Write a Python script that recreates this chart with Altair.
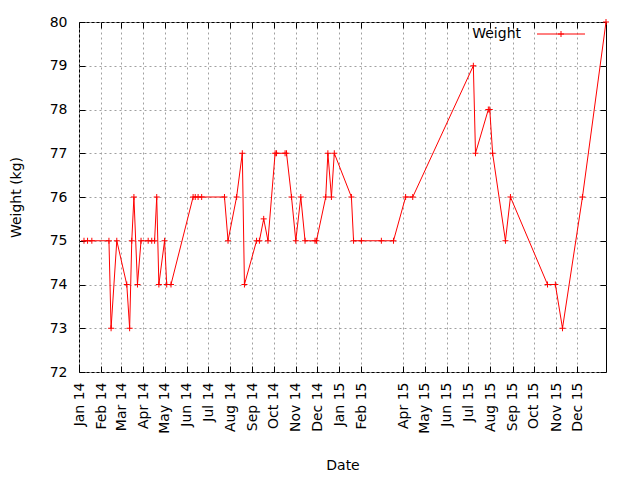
import altair as alt
import pandas as pd

# ---- data ----
dates = [
    "2014-01-08", "2014-01-13", "2014-01-19", "2014-02-12", "2014-02-15", "2014-02-23",
    "2014-03-09", "2014-03-13", "2014-03-16", "2014-03-19", "2014-03-24", "2014-03-29",
    "2014-04-08", "2014-04-13", "2014-04-17", "2014-04-20", "2014-04-23", "2014-05-01",
    "2014-05-04", "2014-05-10", "2014-06-10", "2014-06-13", "2014-06-17", "2014-06-22",
    "2014-07-24", "2014-07-29", "2014-08-10", "2014-08-18", "2014-08-21", "2014-09-07",
    "2014-09-11", "2014-09-17", "2014-09-23", "2014-10-03", "2014-10-05", "2014-10-17",
    "2014-10-19", "2014-10-26", "2014-11-01", "2014-11-08", "2014-11-14", "2014-11-28",
    "2014-11-30", "2014-12-13", "2014-12-16", "2014-12-21", "2014-12-25", "2015-01-18",
    "2015-01-21", "2015-02-01", "2015-03-01", "2015-03-18", "2015-04-04", "2015-04-14",
    "2015-07-08", "2015-07-11", "2015-07-29", "2015-07-31", "2015-08-04", "2015-08-22",
    "2015-08-29", "2015-10-20", "2015-10-31", "2015-11-10", "2015-12-08", "2016-01-10",
]
weights = [
    75, 75, 75, 75, 73, 75,
    74, 73, 75, 76, 74, 75,
    75, 75, 75, 76, 74, 75,
    74, 74, 76, 76, 76, 76,
    76, 75, 76, 77, 74, 75,
    75, 75.5, 75, 77, 77, 77,
    77, 76, 75, 76, 75, 75,
    75, 76, 77, 76, 77, 76,
    75, 75, 75, 75, 76, 76,
    79, 77, 78, 78, 77, 75,
    76, 74, 74, 73, 76, 80,
]
month_ticks = [
    "2014-01-01", "2014-02-01", "2014-03-01", "2014-04-01", "2014-05-01", "2014-06-01",
    "2014-07-01", "2014-08-01", "2014-09-01", "2014-10-01", "2014-11-01", "2014-12-01",
    "2015-01-01", "2015-02-01", "2015-04-01", "2015-05-01", "2015-06-01", "2015-07-01",
    "2015-08-01", "2015-09-01", "2015-10-01", "2015-11-01", "2015-12-01",
]
y_ticks = [72, 73, 74, 75, 76, 77, 78, 79, 80]
x_range = ["2014-01-01", "2016-01-10"]
y_range = [72, 80]
series_name = ["Weight"]

df = pd.DataFrame({"date": dates, "weight": weights})

W, H = 527, 350
FONT = "DejaVu Sans"
FS = 14
RED = "#ff0000"
GRID = "#a0a0a0"
PLUS = "M-1,0L1,0M0,-1L0,1"


def dt(s):
    y, m, d = (int(v) for v in s.split("-"))
    return alt.DateTime(year=y, month=m, date=d, utc=True)


xscale = alt.Scale(type="utc", domain=[dt(s) for s in x_range])
yscale = alt.Scale(domain=y_range, nice=False, zero=False)
xvals = [dt(s) for s in month_ticks]

base = alt.Chart(df)

main_x_axis = alt.Axis(
    values=xvals, labelExpr="utcFormat(datum.value, '%b %y')", labelAngle=-90,
    labelAlign="right", labelBaseline="middle", labelPadding=10,
    labelOverlap=False, labelFlush=False, labelBound=False,
    ticks=False, domain=False, grid=True, gridColor=GRID, gridDash=[2, 3],
    gridWidth=1, gridOpacity=1, title="Date", titleY=93, titleBaseline="middle",
    labelFont=FONT, titleFont=FONT, labelFontSize=FS, titleFontSize=FS,
    labelColor="black", titleColor="black", titleFontWeight="normal",
)
main_y_axis = alt.Axis(
    values=y_ticks, format="d", ticks=False, domain=False, grid=True,
    gridColor=GRID, gridDash=[2, 3], gridWidth=1, gridOpacity=1,
    labelPadding=12, labelFlush=False, labelOverlap=False,
    title="Weight (kg)", titleX=-63, titleBaseline="middle",
    labelFont=FONT, titleFont=FONT, labelFontSize=FS, titleFontSize=FS,
    labelColor="black", titleColor="black", titleFontWeight="normal",
)

line = base.mark_line(color=RED, strokeWidth=1).encode(
    x=alt.X("date:T", scale=xscale, axis=main_x_axis),
    y=alt.Y("weight:Q", scale=yscale, axis=main_y_axis),
)
points = base.mark_point(shape=PLUS, size=36, color=RED, filled=False,
                         strokeWidth=1, opacity=1).encode(
    x=alt.X("date:T", scale=xscale, axis=None),
    y=alt.Y("weight:Q", scale=yscale, axis=None),
)


def tick_axis(orient, offset, values):
    return alt.Axis(orient=orient, offset=offset, values=values, labels=False,
                    domain=False, grid=False, ticks=True, tickSize=6,
                    tickColor="black", tickWidth=1, title=None)


# inside ticks: bottom & left
ticks_a = base.mark_point(opacity=0).encode(
    x=alt.X("date:T", scale=xscale, axis=tick_axis("top", -H, xvals)),
    y=alt.Y("weight:Q", scale=yscale, axis=tick_axis("right", -W, y_ticks)),
)
# inside ticks: top & right (mirror)
ticks_b = base.mark_point(opacity=0).encode(
    x=alt.X("date:T", scale=xscale, axis=tick_axis("bottom", -H, xvals)),
    y=alt.Y("weight:Q", scale=yscale, axis=tick_axis("left", -W, y_ticks)),
)

leg_df = pd.DataFrame({"label": series_name})
leg_text = alt.Chart(leg_df).mark_text(
    align="right", baseline="middle", font=FONT, fontSize=FS, color="black"
).encode(text="label:N", x=alt.value(442), y=alt.value(12))
leg_rule = alt.Chart(leg_df).mark_rule(color=RED, strokeWidth=1).encode(
    x=alt.value(458), x2=alt.value(506), y=alt.value(12))
leg_pt = alt.Chart(leg_df).mark_point(
    shape=PLUS, size=36, color=RED, filled=False, strokeWidth=1, opacity=1
).encode(x=alt.value(482), y=alt.value(12))

chart = alt.layer(
    line, points, ticks_a, ticks_b, leg_text, leg_rule, leg_pt
).resolve_axis(x="independent", y="independent").properties(
    width=W, height=H,
    autosize=alt.AutoSizeParams(type="none"),
    padding={"left": 79, "top": 22, "right": 34, "bottom": 108},
    background="white",
).configure_view(stroke="black", strokeWidth=1)

chart.save("out.html", embed_options={"renderer": "svg", "actions": False})
